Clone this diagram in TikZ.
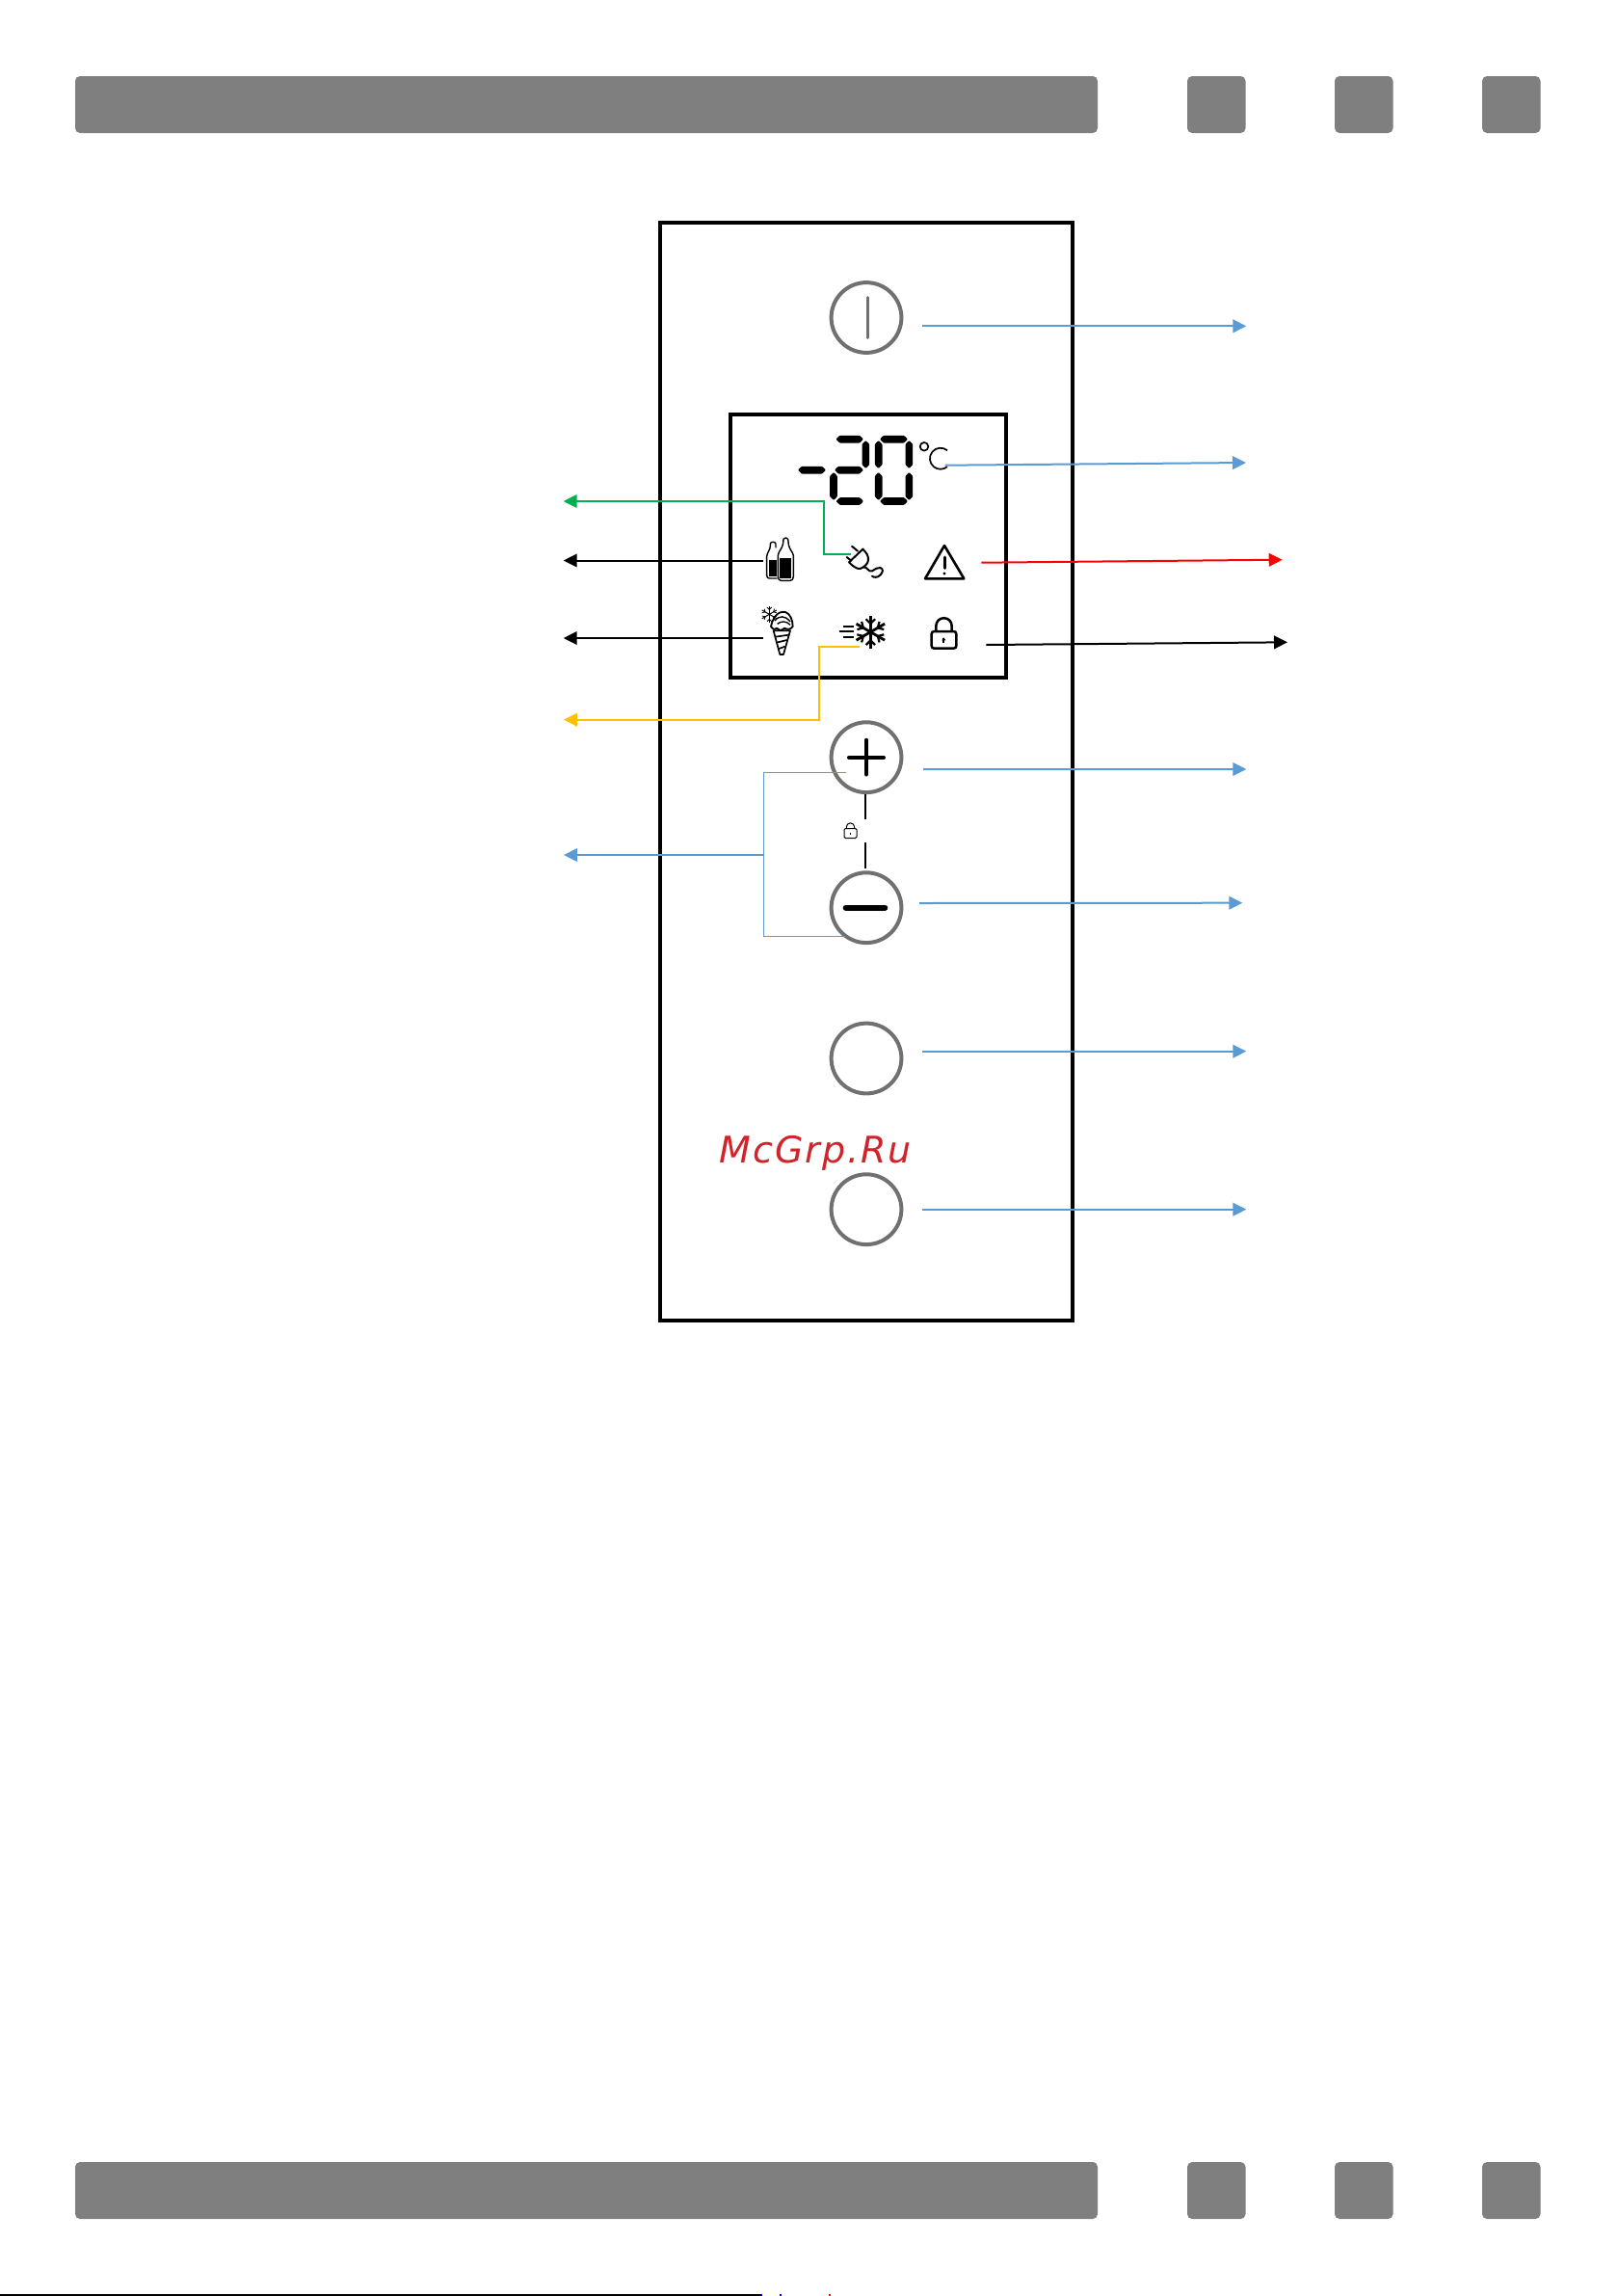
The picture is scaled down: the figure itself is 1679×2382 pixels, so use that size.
\documentclass[tikz,border=0pt]{standalone}
\usepackage{fontspec}
\usetikzlibrary{arrows.meta}
\newfontfamily\wmfont[LetterSpace=5.2]{DejaVu Sans}
\definecolor{barG}{HTML}{7F7F7F}
\definecolor{btnG}{HTML}{707073}
\definecolor{cBlue}{HTML}{5B9BD5}
\definecolor{cGreen}{HTML}{00B050}
\definecolor{cOrange}{HTML}{FFC000}
\definecolor{cRed}{HTML}{FF0000}
\definecolor{wmRed}{HTML}{D2232A}
\newcommand\hsg[3]{\fill[rounded corners=0.4pt] (#1,#3) -- (#1+3.8,#3-3.8) -- (#2-3.8,#3-3.8) -- (#2,#3) -- (#2-3.8,#3+3.8) -- (#1+3.8,#3+3.8) -- cycle;}
\newcommand\vsg[3]{\fill[rounded corners=0.4pt] (#1,#2) -- (#1+3.8,#2+3.8) -- (#1+3.8,#3-3.8) -- (#1,#3) -- (#1-3.8,#3-3.8) -- (#1-3.8,#2+3.8) -- cycle;}
\tikzset{
  x=0.5pt,y=-0.5pt,
  topbar/.style={fill=barG,draw=none,rounded corners=2.5pt},
  roundbtn/.style={circle,draw=btnG,line width=2pt,minimum size=36.4pt,inner sep=0pt,outer sep=0pt,fill=white},
  conn/.style={line width=1pt,-{Triangle[length=7pt,width=6.8pt]}},
  bluec/.style={conn,color=cBlue},
  iconz/.style={shift={(740,420)},x=0.16667pt,y=-0.16667pt},
  thickicon/.style={line width=1pt,line cap=round,line join=round},
}
\begin{document}
\begin{tikzpicture}
\useasboundingbox (0,0) rectangle (1679,2382);
\fill[white] (0,0) rectangle (1679,2382);
% header / footer bars
\foreach \yy/\yb in {79/138,2243/2302}{
  \fill[topbar] (78,\yy) rectangle (1139,\yb);
  \fill[topbar] (1232,\yy) rectangle (1292.5,\yb);
  \fill[topbar] (1385,\yy) rectangle (1445.5,\yb);
  \fill[topbar] (1538,\yy) rectangle (1598.5,\yb);
}
% bottom edge
\draw[line width=0.75pt] (0,2381) -- (790,2381);
\fill[blue] (790,2380) rectangle (791,2382);
\fill[blue] (809,2380) rectangle (811,2382);
\fill[red] (860,2380) rectangle (861.5,2382);
% panel
\draw[line width=1.75pt] (685,231) rectangle (1113,1370);
\draw[line width=2pt] (758,430) rectangle (1044,703);
% digits
\hsg{828}{857}{487.7}
\hsg{867.5}{896}{455.7}
\vsg{898.3}{457}{486}
\hsg{866}{896}{487.7}
\vsg{865}{490}{519}
\hsg{867.5}{896}{520}
\hsg{913}{942}{455.7}
\vsg{911.7}{457}{486}
\vsg{943.3}{457}{486}
\vsg{911.7}{490}{519}
\vsg{943.3}{490}{519}
\hsg{913}{942}{520}
% degree C
\draw[line width=0.85pt] (959,463.3) circle (4.3);
\draw[line width=0.85pt] (983,467.3) arc[start angle=-50,end angle=-310,radius=11];
% buttons
\node[roundbtn] (btnPower) at (899,329.5) {};
\draw[btnG,line width=1.5pt,line cap=round] (900,308.5) -- (900,350.5);
\node[roundbtn] (btnPlus) at (899,785.7) {};
\draw[line width=2pt,line cap=round] (881,785.7) -- (917,785.7) (899,767.7) -- (899,803.5);
\node[roundbtn] (btnMinus) at (899,941.7) {};
\draw[line width=2.8pt,line cap=round] (877.5,941.7) -- (918.5,941.7);
\node[roundbtn] (btnC) at (899,1098) {};
\node[roundbtn] (btnD) at (899,1254.7) {};
% lock link
\draw[line width=0.85pt] (898,824) -- (898,850) (898,874.3) -- (898,900.7);
\draw[line width=0.5pt,rounded corners=0.7pt] (876,859.5) rectangle (889,869.5);
\draw[line width=0.5pt] (878.3,859.5) -- (878.3,858) arc[start angle=180,end angle=360,radius=4.2] -- (886.7,859.5);
\draw[line width=0.45pt] (882.5,863.5) -- (882.5,866);
% icons
\begin{scope}[iconz]
 % bottles
 \draw[line width=0.7pt,line join=round] (200,540) -- (175,540) .. controls (170,540) and (167,536) .. (167,530) -- (167,472) .. controls (168,460) and (178,450) .. (178,440) -- (178,432) .. controls (180,425) and (193,425) .. (195,432) -- (195,445);
 \draw[line width=0.7pt,line join=round,fill=white] (202,535) -- (202,468) .. controls (204,455) and (217,445) .. (218,430) -- (219,418) .. controls (222,412) and (231,412) .. (233,418) -- (235,435) .. controls (237,450) and (250,460) .. (250,470) -- (250,535) .. controls (250,543) and (245,547) .. (240,547) -- (212,547) .. controls (206,547) and (202,543) .. (202,535) -- cycle;
 \fill (174,483) rectangle (197,535);
 \fill (208,478) rectangle (244,541);
 % plug
 \draw[thickicon] (467,448) -- (423,490);
 \draw[thickicon] (450,455) -- (432,440) (430,485) -- (416,474);
 \draw[thickicon] (467,450) .. controls (478,462) and (483,468) .. (483,482) .. controls (483,495) and (470,505) .. (458,510) .. controls (448,512) and (432,500) .. (423,490);
 \draw[thickicon] (468,505) .. controls (480,503) and (483,522) .. (495,517) .. controls (505,512) and (510,505) .. (520,507) .. controls (532,510) and (528,522) .. (520,530) .. controls (512,538) and (500,538) .. (495,533);
 % warning
 \draw[line width=1.3pt,line join=round] (720,438) -- (660,541) -- (781,541) -- cycle;
 \draw[line width=1.5pt,line cap=round] (720,474) -- (720,508);
 \fill (720,525) circle (5);
 % ice cream
 \draw[line width=0.85pt,line join=round] (188,703) -- (240,703) -- (219,777) -- (208,777) -- cycle;
 \draw[line width=0.85pt] (194,722) -- (236,716) (197,740) -- (230,732) (202,760) -- (224,752);
 \draw[line width=0.9pt,line join=round,line cap=round,fill=white] (180,690) .. controls (185,665) and (200,640) .. (225,645) .. controls (240,650) and (248,670) .. (248,690) .. controls (240,700) and (232,700) .. (222,695) .. controls (212,705) and (203,702) .. (198,695) .. controls (190,702) and (183,697) .. (180,690) -- cycle;
 \draw[line width=0.7pt] (192,672) .. controls (205,655) and (225,655) .. (240,675);
 \draw[line width=0.7pt] (200,682) .. controls (212,672) and (228,672) .. (240,685);
 % small flake
 \foreach \a in {90,30,-30}{
   \draw[line width=0.5pt] (175,652) ++(\a:26) -- ++(\a+180:52);
 }
 \foreach \a in {0,60,...,300}{
   \draw[line width=0.4pt] (175,652) ++(\a+30:15) -- ++(\a+75:10) (175,652) ++(\a+30:15) -- ++(\a-15:10);
 }
 % snowflake
 \foreach \a in {90,30,-30}{
   \draw[line width=1.4pt] (490,707) ++(\a:51) -- ++(\a+180:102);
 }
 \foreach \a in {30,90,...,330}{
   \draw[line width=1.1pt] (490,707) ++(\a:26) -- ++(\a+45:20) (490,707) ++(\a:26) -- ++(\a-45:20);
 }
 \draw[line width=0.9pt] (392,706) -- (438,706) (405,690) -- (438,690) (405,722) -- (438,722);
 % lock
 \draw[line width=1.25pt,rounded corners=1.3pt] (680,705) rectangle (757,758);
 \draw[line width=1.25pt] (694,705) -- (694,688) arc[start angle=180,end angle=360,radius=24.5] -- (743,705);
 \draw[line width=0.9pt] (718,727) -- (718,742);
 \fill (712,733) -- (718,724) -- (724,733) -- cycle;
\end{scope}
% connector ends
\coordinate (pS) at (957,338.3);  \coordinate (pT) at (1293.3,338.3);
\coordinate (tS) at (980.7,482.7);\coordinate (tT) at (1293,480);
\coordinate (wS) at (1018.3,583.7);\coordinate (wT) at (1330.7,580.7);
\coordinate (kS) at (1023.3,669); \coordinate (kT) at (1336,666.3);
\coordinate (uS) at (957.5,798);  \coordinate (uT) at (1293.3,798);
\coordinate (dS) at (954,937);    \coordinate (dT) at (1289.3,936.7);
\coordinate (cS) at (957,1090.7); \coordinate (cT) at (1293.3,1090.7);
\coordinate (eS) at (957,1254.7); \coordinate (eT) at (1293.3,1254.7);
\coordinate (gS) at (883.3,575.3);\coordinate (gM1) at (855,575.3);\coordinate (gM2) at (855,520);\coordinate (gT) at (584.7,520);
\coordinate (bS) at (791.7,581.5);\coordinate (bT) at (584.7,581.5);
\coordinate (iS) at (791.7,662);  \coordinate (iT) at (584.7,662);
\coordinate (oS) at (892.3,670.7);\coordinate (oM1) at (850,670.7);\coordinate (oM2) at (850,746.7);\coordinate (oT) at (585,746.7);
\coordinate (lT1) at (878.3,801.3);\coordinate (lC1) at (792.3,801.3);\coordinate (lC2) at (792.3,971.3);\coordinate (lT2) at (876.7,971.3);
\coordinate (lM) at (792.3,887);\coordinate (lT) at (585,887);
% connectors
\draw[bluec] (pS) -- (pT);
\draw[bluec] (tS) -- (tT);
\draw[conn,color=cRed] (wS) -- (wT);
\draw[conn,color=black] (kS) -- (kT);
\draw[bluec] (uS) -- (uT);
\draw[bluec] (dS) -- (dT);
\draw[bluec] (cS) -- (cT);
\draw[bluec] (eS) -- (eT);
\draw[conn,color=cGreen] (gS) -- (gM1) -- (gM2) -- (gT);
\draw[conn,color=black] (bS) -- (bT);
\draw[conn,color=black] (iS) -- (iT);
\draw[conn,color=cOrange] (oS) -- (oM1) -- (oM2) -- (oT);
\draw[cBlue,line width=0.5pt] (lT1) -- (lC1) -- (lC2) -- (lT2);
\draw[bluec] (lM) -- (lT);
% watermark
\node[anchor=base west,inner sep=0pt,text=wmRed,font=\wmfont\itshape\fontsize{19}{19}\selectfont] (wm) at (746,1206) {McGrp.Ru};
\end{tikzpicture}
\end{document}
